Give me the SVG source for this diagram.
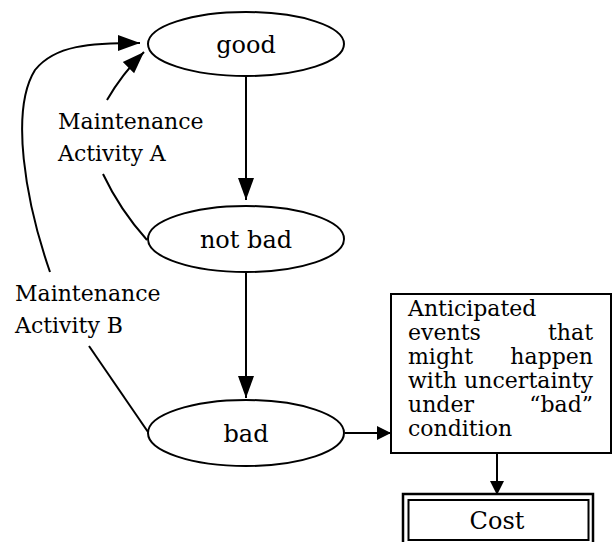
<svg xmlns="http://www.w3.org/2000/svg" width="612" height="542" viewBox="0 0 612 542">
<style>
text{font-family:"DejaVu Serif","Liberation Serif",serif;font-size:22px;fill:#000}
.big{font-size:24px}
.c{text-anchor:middle}
.r{text-anchor:end}
.n{fill:#fff;stroke:#000;stroke-width:2}
.e{fill:none;stroke:#000;stroke-width:2}
</style>
<defs>
<marker id="big" markerUnits="userSpaceOnUse" markerWidth="24" markerHeight="18" refX="22" refY="8" orient="auto" viewBox="0 0 24 16">
<path d="M0,0 L22,8 L0,16 Z" fill="#000"/>
</marker>
<marker id="sm" markerUnits="userSpaceOnUse" markerWidth="16" markerHeight="16" refX="14" refY="7" orient="auto" viewBox="0 0 16 14">
<path d="M0,0 L14,7 L0,14 Z" fill="#000"/>
</marker>
</defs>
<g id="connectors">
<path class="e" d="M246,77 L246,200" marker-end="url(#big)"/>
<path class="e" d="M246,272 L246,398" marker-end="url(#big)"/>
<path class="e" d="M345,433 L391,433" marker-end="url(#sm)"/>
<path class="e" d="M497,453 L497,495" marker-end="url(#sm)"/>
<path class="e" d="M147,240 Q120,210 103,174"/>
<path class="e" d="M107,100 Q122,74 144,52" marker-end="url(#big)"/>
<path class="e" d="M148,432 L89,346"/>
<path class="e" d="M50,272 C25,200 10,110 35,70 C55,45 90,43 140,43" marker-end="url(#big)"/>
</g>
<g id="good">
<ellipse class="n" cx="246" cy="44" rx="98" ry="32"/>
<text class="c big" x="246" y="53">good</text>
</g>
<g id="notbad">
<ellipse class="n" cx="246" cy="239" rx="98" ry="33"/>
<text class="c big" x="246" y="248">not bad</text>
</g>
<g id="bad">
<ellipse class="n" cx="246" cy="433" rx="98" ry="33"/>
<text class="c big" x="246" y="442">bad</text>
</g>
<g id="labelA">
<text x="58" y="129">Maintenance</text>
<text x="58" y="161">Activity A</text>
</g>
<g id="labelB">
<text x="15" y="301">Maintenance</text>
<text x="15" y="333">Activity B</text>
</g>
<g id="events">
<rect class="n" x="391" y="294" width="220" height="159"/>
<text x="408" y="316">Anticipated</text>
<text x="408" y="340">events</text>
<text class="r" x="593" y="340">that</text>
<text x="408" y="364">might</text>
<text class="r" x="593" y="364">happen</text>
<text x="408" y="388" textLength="185" lengthAdjust="spacing">with uncertainty</text>
<text x="408" y="412">under</text>
<text class="r" x="593" y="412">“bad”</text>
<text x="408" y="436">condition</text>
</g>
<g id="cost">
<rect x="403" y="494" width="190" height="52" fill="#fff" stroke="#000" stroke-width="2.5"/>
<rect x="408.5" y="500" width="180" height="40" fill="none" stroke="#000" stroke-width="2"/>
<text class="c big" x="497" y="529">Cost</text>
</g>
</svg>
